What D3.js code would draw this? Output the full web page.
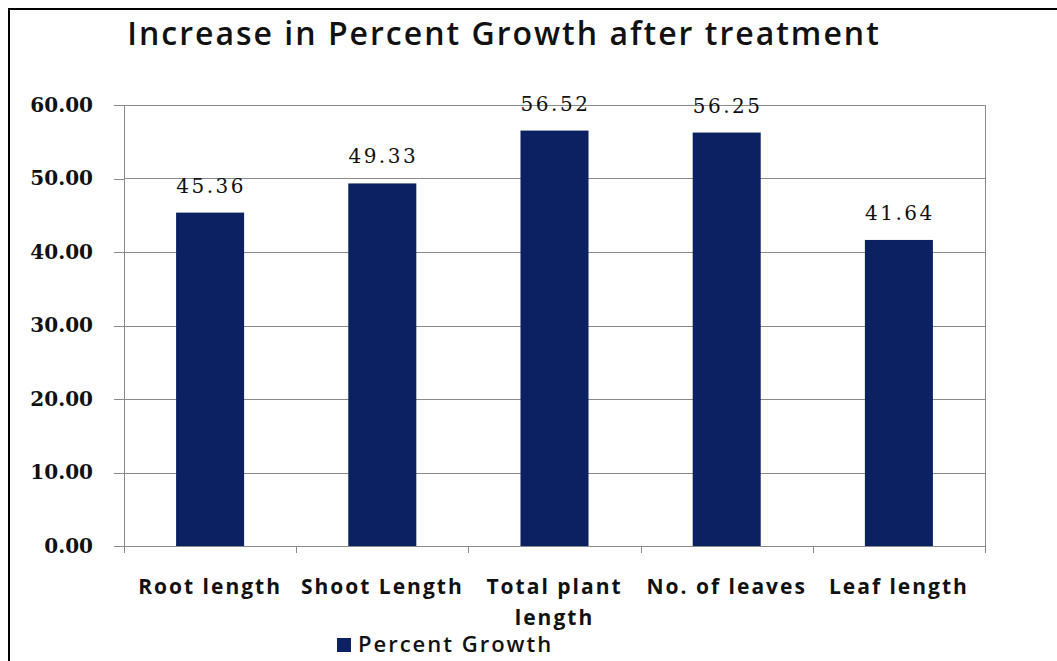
<!DOCTYPE html>
<html>
<head>
<meta charset="utf-8">
<script src="https://cdn.jsdelivr.net/npm/d3@7"></script>
<style>
    body { margin: 0; background: #fff; }
    svg { display: block; }
    .grid line { stroke: #8a8a8a; stroke-width: 1; }
    .axis path, .axis line { stroke: #8a8a8a; shape-rendering: crispEdges; }
    .y-axis text { font-family: "DejaVu Serif", serif; font-weight: bold; font-size: 20px; fill: #111; }
    .x-axis text { font-family: "Open Sans", sans-serif; font-weight: bold; font-size: 21px; fill: #111; letter-spacing: 2px; }
    .value-label { font-family: "DejaVu Serif", serif; font-size: 20px; fill: #111; letter-spacing: 2.5px; }
    .title { font-family: "Open Sans", sans-serif; font-weight: 600; font-size: 32px; fill: #111; letter-spacing: 2px; }
    .legend text { font-family: "Open Sans", sans-serif; font-weight: 600; font-size: 22px; fill: #111; letter-spacing: 2px; }
</style>
</head>
<body>
<svg id="chart"></svg>
<script>
const categories = ["Root length", "Shoot Length", "Total plant length", "No. of leaves", "Leaf length"];
const growthValues = [45.36, 49.33, 56.52, 56.25, 41.64];
const yTickValues = [0, 10, 20, 30, 40, 50, 60];
const seriesName = "Percent Growth";
const chartTitle = "Increase in Percent Growth after treatment";

class BarChart {
    constructor(_config, _data) {
        this.config = {
            parentElement: _config.parentElement,
            containerWidth: 1057,
            containerHeight: 661,
            margin: {top: 105, right: 72, bottom: 115, left: 124}
        }
        this.data = _data;
        this.initVis();
    }

    initVis() {
        let vis = this;
        vis.width = vis.config.containerWidth - vis.config.margin.left - vis.config.margin.right;
        vis.height = vis.config.containerHeight - vis.config.margin.top - vis.config.margin.bottom;

        vis.svg = d3.select(vis.config.parentElement)
            .attr('width', vis.config.containerWidth)
            .attr('height', vis.config.containerHeight);

        // outer frame, only left and top edges show in the original
        vis.svg.append('path')
            .attr('d', `M9,${vis.config.containerHeight} V9 H${vis.config.containerWidth}`)
            .attr('fill', 'none')
            .attr('stroke', '#000')
            .attr('stroke-width', 2);

        vis.svg.append('text')
            .attr('class', 'title')
            .attr('x', 504)
            .attr('y', 45)
            .attr('text-anchor', 'middle')
            .text(chartTitle);

        vis.chart = vis.svg.append('g')
            .attr('transform', `translate(${vis.config.margin.left},${vis.config.margin.top})`);

        vis.x = d3.scaleBand()
            .domain(categories)
            .range([0, vis.width])
            .paddingInner(0.605)
            .paddingOuter(0.3025);

        vis.y = d3.scaleLinear()
            .domain([0, 60])
            .range([vis.height, 0]);
    }

    renderVis() {
        let vis = this;

        // horizontal gridlines
        vis.chart.append('g')
            .attr('class', 'grid')
            .selectAll('line')
            .data(yTickValues.filter(d => d > 0))
            .join('line')
            .attr('x1', 0)
            .attr('x2', vis.width)
            .attr('y1', d => Math.round(vis.y(d)) + 0.5)
            .attr('y2', d => Math.round(vis.y(d)) + 0.5);

        // right edge of plot area
        vis.chart.append('line')
            .attr('x1', vis.width + 0.5).attr('x2', vis.width + 0.5)
            .attr('y1', vis.y(60)).attr('y2', vis.height)
            .attr('stroke', '#8a8a8a');

        vis.chart.append('g')
            .attr('class', 'axis y-axis')
            .call(d3.axisLeft(vis.y)
                .tickValues(yTickValues)
                .tickFormat(d3.format('.2f'))
                .tickSizeInner(10)
                .tickSizeOuter(0)
                .tickPadding(21));

        // category ticks sit on the band edges
        let step = vis.x.step();
        let edges = d3.range(categories.length + 1).map(i => i * step);
        let xAxis = vis.chart.append('g')
            .attr('class', 'axis x-axis')
            .attr('transform', `translate(0,${vis.height})`);
        xAxis.append('line')
            .attr('x1', 0).attr('x2', vis.width)
            .attr('y1', 0.5).attr('y2', 0.5);
        xAxis.selectAll('.edge')
            .data(edges)
            .join('line')
            .attr('class', 'edge')
            .attr('x1', d => Math.round(d) + 0.5)
            .attr('x2', d => Math.round(d) + 0.5)
            .attr('y1', 0)
            .attr('y2', 7);
        xAxis.selectAll('text')
            .data(categories)
            .join('text')
            .attr('x', d => vis.x(d) + vis.x.bandwidth() / 2)
            .attr('y', 48)
            .attr('text-anchor', 'middle')
            .text(d => d)
            .call(wrap, step - 2);

        vis.chart.selectAll('.bar')
            .data(vis.data)
            .join('rect')
            .attr('class', 'bar')
            .attr('x', d => vis.x(d.category))
            .attr('y', d => vis.y(d.value))
            .attr('width', vis.x.bandwidth())
            .attr('height', d => vis.height - vis.y(d.value))
            .attr('fill', '#0b2161');

        vis.chart.selectAll('.value-label')
            .data(vis.data)
            .join('text')
            .attr('class', 'value-label')
            .attr('x', d => vis.x(d.category) + vis.x.bandwidth() / 2 + 1)
            .attr('y', d => vis.y(d.value) - 20)
            .attr('text-anchor', 'middle')
            .text(d => d.value.toFixed(2));

        // legend
        let legend = vis.svg.append('g').attr('class', 'legend');
        legend.append('rect')
            .attr('x', 337).attr('y', 638)
            .attr('width', 14).attr('height', 14)
            .attr('fill', '#0b2161');
        legend.append('text')
            .attr('x', 358).attr('y', 652)
            .text(seriesName);
    }
}

function wrap(text, width) {
    text.each(function() {
        let t = d3.select(this),
            words = t.text().split(/\s+/).reverse(),
            line = [],
            lineNo = 0,
            x = t.attr('x'),
            y = t.attr('y'),
            word,
            tspan = t.text(null).append('tspan').attr('x', x).attr('y', y);
        while ((word = words.pop())) {
            line.push(word);
            tspan.text(line.join(' '));
            if (tspan.node().getComputedTextLength() > width && line.length > 1) {
                line.pop();
                tspan.text(line.join(' '));
                line = [word];
                tspan = t.append('tspan').attr('x', x).attr('y', +y + (++lineNo) * 31).text(word);
            }
        }
    });
}

let data = categories.map((c, i) => ({category: c, value: growthValues[i]}));
let chart = new BarChart({parentElement: '#chart'}, data);
chart.renderVis();
</script>
</body>
</html>
